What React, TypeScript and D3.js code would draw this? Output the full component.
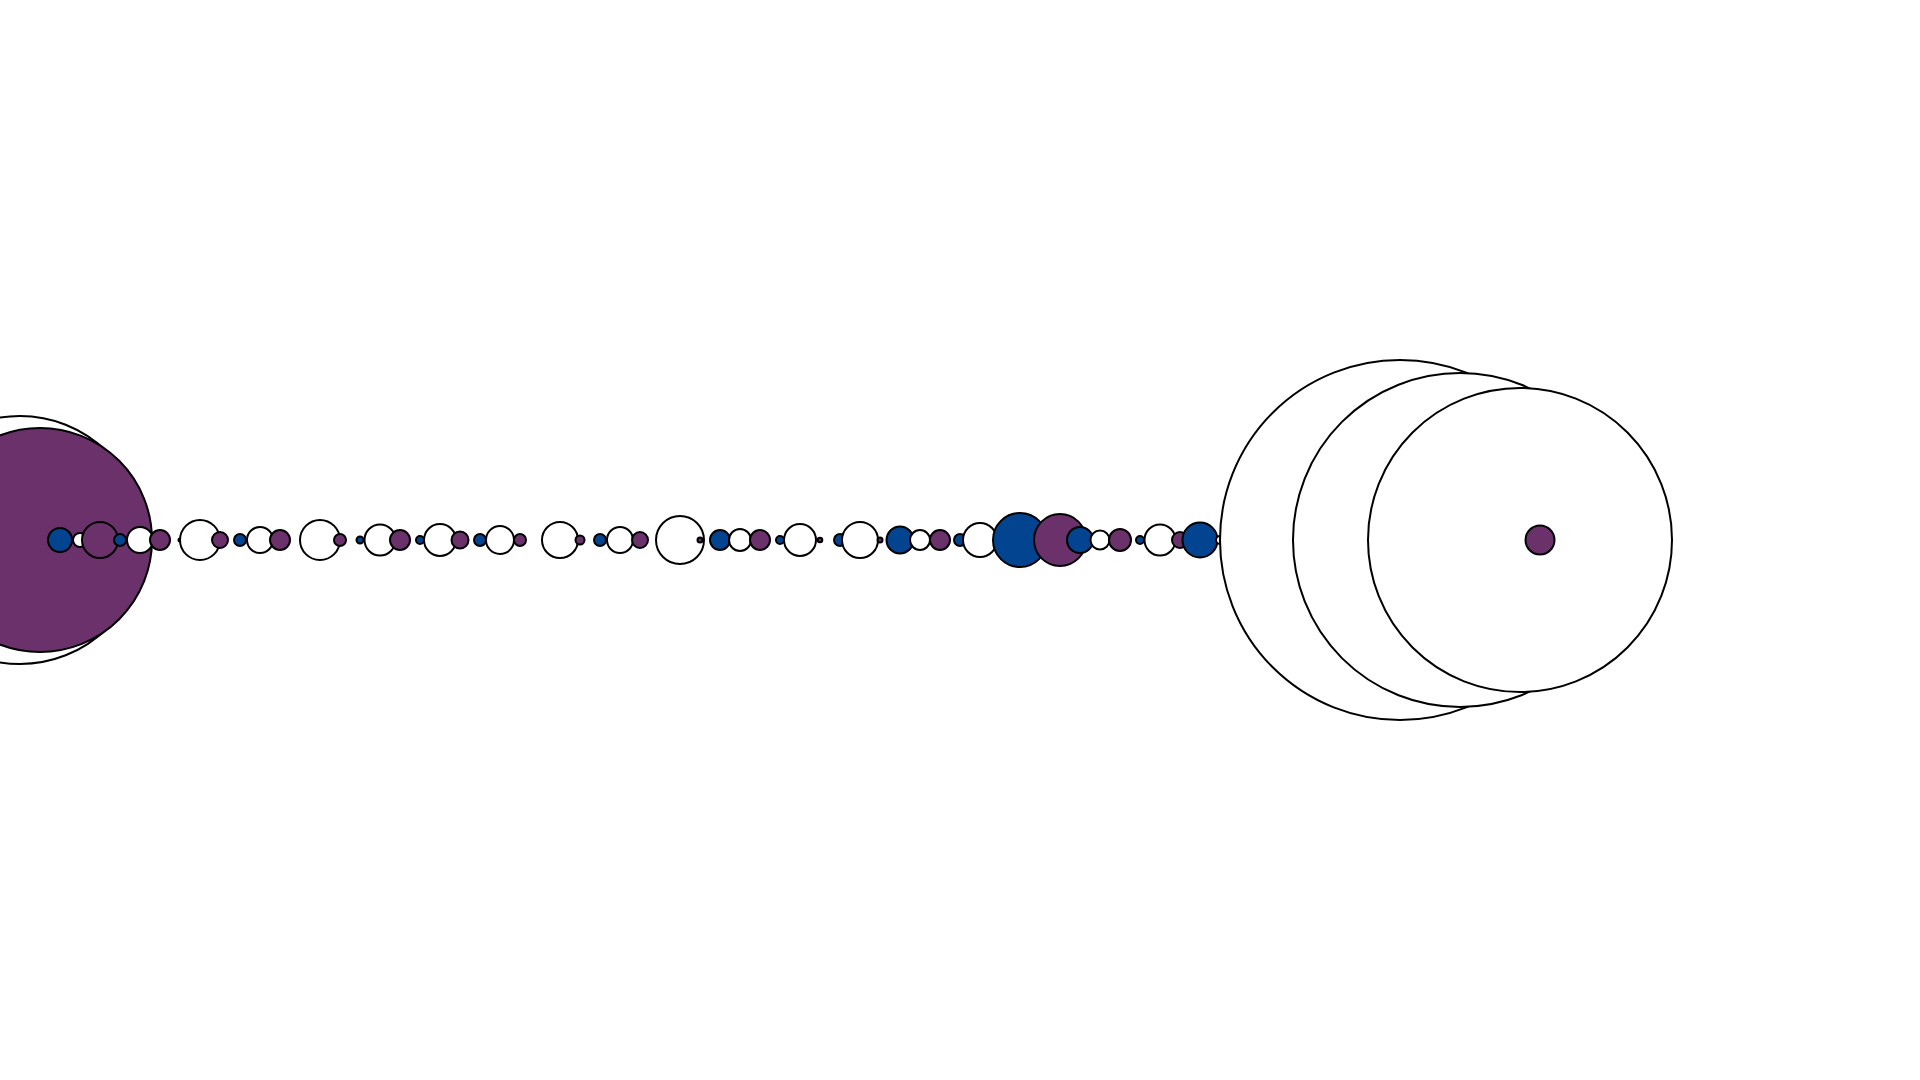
import { useEffect, useRef } from "react"
import * as d3 from "d3"

// one bubble per slot, three slots per group: blue, white, purple
const seriesNames = ["blue", "white", "purple"]
const seriesColors = ["#02448f", "#ffffff", "#6b316b"]

// radius of each bubble, in px, per series (26 groups)
const blueValues = [8, 12, 6, 1.5, 6, 0, 3.5, 4, 6, 0, 6, 2, 10, 4, 6, 13.5, 6, 27, 13, 4, 17.5, 6, 5, 6, 5, 6]
const whiteValues = [124, 7, 13, 20, 13, 20, 15.5, 16, 14, 18, 13, 24, 11, 16, 18, 10, 17, 3, 9.5, 15.5, 4, 8, 7, 180, 167, 152]
const purpleValues = [112, 18, 10, 8, 10, 6, 10, 8.5, 6, 4.5, 8, 2.5, 10, 2.3, 2.5, 10, 3, 26, 11, 8, 6, 5, 7, 6, 8, 14.5]

export default function App() {
  const svgRef = useRef<SVGSVGElement | null>(null)

  useEffect(() => {
    if (!svgRef.current) return

    const width = 1920
    const height = 1080
    const step = 20

    d3.select(svgRef.current).selectAll("*").remove()
    const svg = d3.select(svgRef.current)

    // flatten groups into draw order: blue, white, purple
    const data: { i: number; series: string; r: number }[] = []
    blueValues.forEach((_, g) => {
      data.push({ i: g * 3, series: "blue", r: blueValues[g] })
      data.push({ i: g * 3 + 1, series: "white", r: whiteValues[g] })
      data.push({ i: g * 3 + 2, series: "purple", r: purpleValues[g] })
    })

    const x = d3
      .scaleLinear()
      .domain([0, data.length - 1])
      .range([0, (data.length - 1) * step])

    const r = d3.scaleLinear().domain([0, 200]).range([0, 200])

    const color = d3.scaleOrdinal<string, string>().domain(seriesNames).range(seriesColors)

    svg
      .selectAll("circle")
      .data(data)
      .enter()
      .append("circle")
      .attr("cx", (d) => x(d.i))
      .attr("cy", height / 2)
      .attr("r", (d) => r(d.r))
      .attr("fill", (d) => color(d.series))
      .attr("stroke", "#000")
      .attr("stroke-width", 2)

    svg.attr("width", width).attr("height", height)
  }, [])

  return (
    <svg
      ref={svgRef}
      width={1920}
      height={1080}
      style={{ position: "fixed", left: 0, top: 0, background: "#fff" }}
    ></svg>
  )
}
